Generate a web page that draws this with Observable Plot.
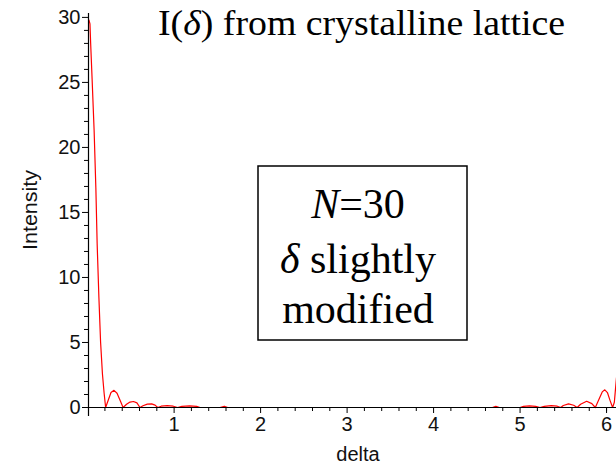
<!DOCTYPE html>
<html>
<head>
<meta charset="utf-8">
<script src="https://cdn.jsdelivr.net/npm/d3@7"></script>
<script src="https://cdn.jsdelivr.net/npm/@observablehq/plot@0.6"></script>
<style>
  html, body { margin: 0; padding: 0; background: #fff; }
  #chart { width: 616px; height: 464px; }
</style>
</head>
<body>
<div id="chart"></div>
<script>
// Values
const deltaValues = [
  0.015, 0.027, 0.035, 0.052, 0.075, 0.095, 0.110, 0.130, 0.150, 0.171, 0.191, 0.208,
  0.24, 0.27, 0.305, 0.34, 0.375, 0.41,
  0.45, 0.49, 0.53, 0.57, 0.605,
  0.64, 0.69, 0.74, 0.78, 0.81,
  0.85, 0.92, 0.99, 1.04,
  1.09, 1.18, 1.26, 1.30,
  1.53, 1.58, 1.62,
  4.68, 4.72, 4.76,
  5.00, 5.04, 5.11, 5.18, 5.23,
  5.28, 5.36, 5.43, 5.47,
  5.50, 5.56, 5.62, 5.66,
  5.70, 5.77, 5.83, 5.87,
  5.91, 5.95, 5.98, 6.01, 6.04, 6.07,
  6.09, 6.115
];
const intensityValues = [
  29.8, 29.5, 28.0, 25.2, 21.3, 16.9, 12.6, 8.5, 5.0, 2.6, 1.08, 0,
  0.6, 1.15, 1.32, 1.1, 0.55, 0,
  0.25, 0.42, 0.46, 0.36, 0,
  0.13, 0.26, 0.28, 0.18, 0,
  0.1, 0.15, 0.1, 0,
  0.09, 0.12, 0.09, 0,
  0, 0.1, 0,
  0, 0.09, 0,
  0, 0.09, 0.13, 0.09, 0,
  0.09, 0.14, 0.1, 0,
  0.15, 0.28, 0.17, 0,
  0.25, 0.48, 0.3, 0,
  0.6, 1.2, 1.36, 1.15, 0.55, 0,
  0.4, 2.3
];
const xMajorTicks = [1, 2, 3, 4, 5, 6];
const xMinorTicks = [0.2, 0.4, 0.6, 0.8, 1.2, 1.4, 1.6, 1.8, 2.2, 2.4, 2.6, 2.8,
  3.2, 3.4, 3.6, 3.8, 4.2, 4.4, 4.6, 4.8, 5.2, 5.4, 5.6, 5.8, 6.0];
const yMajorTicks = [0, 5, 10, 15, 20, 25, 30];
const yMinorTicks = [1, 2, 3, 4, 6, 7, 8, 9, 11, 12, 13, 14, 16, 17, 18, 19,
  21, 22, 23, 24, 26, 27, 28, 29];
const xDomain = [0.01, 6.115];
const yDomain = [0, 30.3];
const titleText = ["I(", "δ", ") from crystalline lattice"];
const xLabel = "delta";
const yLabel = "Intensity";
const noteLines = [["N", "=30"], ["δ", " slightly"], ["", "modified"]];

const data = deltaValues.map((d, i) => ({delta: d, intensity: intensityValues[i]}));
const sans = "'Liberation Sans', Arial, sans-serif";
const serif = "'Liberation Serif', 'Times New Roman', serif";

const plot = Plot.plot({
  width: 616,
  height: 464,
  marginTop: 13,
  marginBottom: 57,
  marginLeft: 88,
  marginRight: 0,
  style: {fontFamily: sans, fontSize: "20px", color: "#000", background: "#fff", overflow: "visible"},
  x: {domain: xDomain},
  y: {domain: yDomain},
  marks: [
    Plot.line(data, {x: "delta", y: "intensity", stroke: "#ff0000", strokeWidth: 1.2}),
    Plot.ruleY([0], {x1: xDomain[0] - 0.06, x2: xDomain[1], stroke: "#000", strokeWidth: 1.2}),
    Plot.ruleX([xDomain[0]], {y1: -0.7, y2: yDomain[1], stroke: "#000", strokeWidth: 1.2}),
    Plot.axisY({ticks: yMajorTicks, tickSize: 6, tickPadding: 2, label: null, stroke: "#000",
      fontSize: 20, fill: "#111", tickFormat: d => String(d)}),
    Plot.axisY({ticks: yMinorTicks, tickSize: 4, text: null, label: null, stroke: "#000"}),
    Plot.axisX({ticks: xMajorTicks, tickSize: 6, tickPadding: 3, label: null, stroke: "#000",
      fontSize: 20, fill: "#111", tickFormat: d => String(d)}),
    Plot.axisX({ticks: xMinorTicks, tickSize: 4, text: null, label: null, stroke: "#000"})
  ]
});
document.getElementById("chart").appendChild(plot);

const svg = d3.select(plot);
// axis labels
svg.append("text").attr("x", 358).attr("y", 461).attr("text-anchor", "middle")
  .style("font-family", sans).style("font-size", "20px")
  .attr("fill", "#111").text(xLabel);
svg.append("text").attr("transform", "translate(37,210) rotate(-90)").attr("text-anchor", "middle")
  .attr("textLength", 80).attr("lengthAdjust", "spacingAndGlyphs")
  .style("font-family", sans).style("font-size", "20px")
  .attr("fill", "#111").text(yLabel);

// title
const t = svg.append("text").attr("x", 158).attr("y", 35).attr("text-anchor", "start")
  .attr("textLength", 407).attr("lengthAdjust", "spacingAndGlyphs")
  .style("font-family", serif).style("font-size", "35px")
  .attr("fill", "#000");
t.append("tspan").text(titleText[0]);
t.append("tspan").style("font-style", "italic").text(titleText[1]);
t.append("tspan").attr("xml:space", "preserve").text(titleText[2]);

// annotation box
svg.append("rect").attr("x", 258).attr("y", 166).attr("width", 209).attr("height", 174)
  .attr("fill", "#fff").attr("stroke", "#000").attr("stroke-width", 1.5);
const baselines = [218, 273, 323];
noteLines.forEach((ln, i) => {
  const tx = svg.append("text").attr("x", 358).attr("y", baselines[i]).attr("text-anchor", "middle")
    .style("font-family", serif).style("font-size", "42px")
    .attr("fill", "#000");
  if (ln[0]) tx.append("tspan").style("font-style", "italic").text(ln[0]);
  tx.append("tspan").text(ln[1]);
});
</script>
</body>
</html>
